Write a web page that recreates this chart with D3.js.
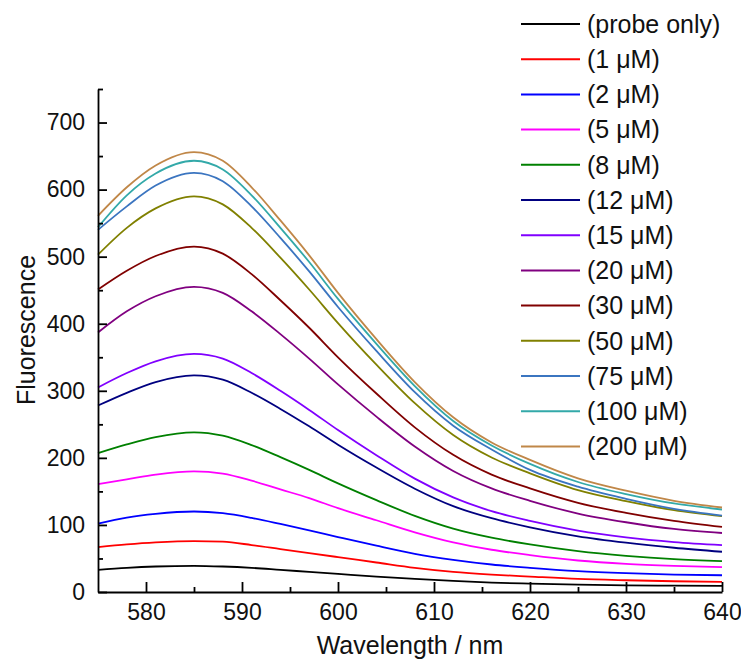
<!DOCTYPE html>
<html>
<head>
<meta charset="utf-8">
<script src="https://cdn.jsdelivr.net/npm/d3@7"></script>
<style>
body { margin: 0; background: #fff; }
text { font-family: "Liberation Sans", Arial, sans-serif; fill: #111; }
</style>
</head>
<body>
<svg id="chart" width="741" height="662"></svg>
<script>
// wavelengths (nm)
var wavelengths = [575, 578, 581, 585, 588, 591, 594, 597, 600, 604, 608, 612, 616, 620, 625, 630, 635, 640];

var labels = ["(probe only)", "(1 \u03bcM)", "(2 \u03bcM)", "(5 \u03bcM)", "(8 \u03bcM)", "(12 \u03bcM)", "(15 \u03bcM)",
              "(20 \u03bcM)", "(30 \u03bcM)", "(50 \u03bcM)", "(75 \u03bcM)", "(100 \u03bcM)", "(200 \u03bcM)"];

var probeOnly = [33, 36, 38, 39, 38, 36, 33, 30, 27, 23, 19.5, 16.5, 14, 12.5, 11, 10, 9.5, 9];
var conc1   = [67, 71, 74, 76, 75, 70, 64, 58, 52, 44, 36, 30, 26, 23, 19.5, 17.5, 16, 15];
var conc2   = [102, 111, 116.5, 120, 117.5, 110.5, 101.5, 92, 82, 69, 57, 48, 41, 36, 31, 28, 26, 25];
var conc5   = [161, 168, 175, 180, 176.5, 166, 153, 140, 125, 107, 89, 74, 63, 55, 47, 42, 39, 37];
var conc8   = [207, 220, 231, 238, 233, 219, 201, 182, 162, 137, 113.5, 94.5, 81, 71, 61, 54, 49, 46];
var conc12  = [278, 297, 313, 323, 316.5, 297, 273, 247, 219.5, 185.5, 154, 128, 110, 96.5, 83, 73.5, 66, 60];
var conc15  = [305, 326.5, 344, 355, 348, 326.5, 300, 271.5, 241.5, 204, 169, 141, 120.5, 106, 91.5, 81.5, 74.5, 70];
var conc20  = [387, 418.5, 441, 455, 446, 418.5, 384.5, 348, 309.5, 261.5, 217, 180.5, 154.5, 136, 117, 104, 94, 88];
var conc30  = [451, 479, 501, 515, 504.5, 474, 435, 394, 350, 296, 245.5, 204.5, 175, 154.5, 133, 118, 106, 97];
var conc50  = [503, 543, 572, 590, 578, 543, 498.5, 451, 401, 339, 281.5, 234, 200.5, 177, 152, 135.5, 122, 113];
var conc75  = [540, 575, 606, 625, 612.5, 575, 528, 478, 425, 359.5, 298, 248, 212.5, 182, 157, 139, 124, 114];
var conc100 = [544, 591.5, 624, 643, 630, 591.5, 543, 492, 437, 370, 307, 255, 218.5, 191, 164, 146, 132, 123];
var conc200 = [561, 603.5, 636, 656, 643, 603.5, 554, 502, 446, 377, 313, 260.5, 223, 197, 169.5, 151, 136, 126];

var seriesValues = [probeOnly, conc1, conc2, conc5, conc8, conc12, conc15, conc20, conc30, conc50, conc75, conc100, conc200];

var colors = ["#000000", "#ff0000", "#0000ff", "#ff00ff", "#008000", "#000080", "#8000ff",
              "#800080", "#800000", "#808000", "#3b75c0", "#33a9a9", "#c08748"];

var yMajor = [0, 100, 200, 300, 400, 500, 600, 700];
var yMinor = [50, 150, 250, 350, 450, 550, 650, 750];
var xMajor = [580, 590, 600, 610, 620, 630, 640];
var xMinor = [585, 595, 605, 615, 625, 635];

var svg = d3.select("#chart"),
    margin = {top: 89, right: 19, bottom: 70, left: 98},
    width = +svg.attr("width") - margin.left - margin.right,
    height = +svg.attr("height") - margin.top - margin.bottom,
    g = svg.append("g").attr("transform", "translate(" + margin.left + "," + margin.top + ")");

var x = d3.scaleLinear().domain([575, 640]).range([0, width]);
var y = d3.scaleLinear().domain([0, 750]).range([height, 0]);

var series = seriesValues.map(function(vals, i) {
    return {
        label: labels[i],
        color: colors[i],
        values: vals.map(function(v, j) { return {w: wavelengths[j], v: v}; })
    };
});

var line = d3.line()
    .x(function(d) { return x(d.w); })
    .y(function(d) { return y(d.v); })
    .curve(d3.curveMonotoneX);

g.append("g")
  .selectAll("path")
  .data(series)
  .enter().append("path")
    .attr("fill", "none")
    .attr("stroke", function(d) { return d.color; })
    .attr("stroke-width", 1.8)
    .attr("d", function(d) { return line(d.values); });

// axes, ticks point inward
g.append("g")
    .call(d3.axisLeft(y).tickValues(yMajor).tickSize(-9).tickSizeOuter(0).tickPadding(13));
g.append("g")
    .call(d3.axisLeft(y).tickValues(yMinor).tickSize(-5).tickFormat(""))
    .select(".domain").remove();

g.append("g")
    .attr("transform", "translate(0," + height + ")")
    .call(d3.axisBottom(x).tickValues(xMajor).tickSize(-10).tickSizeOuter(0).tickPadding(12));
g.append("g")
    .attr("transform", "translate(0," + height + ")")
    .call(d3.axisBottom(x).tickValues(xMinor).tickSize(-5).tickFormat(""))
    .select(".domain").remove();

g.selectAll(".domain, .tick line").attr("stroke", "#000").attr("stroke-width", 1.8);
g.selectAll(".tick text")
    .attr("font-size", 23)
    .attr("font-family", "'Liberation Sans', Arial, sans-serif")
    .attr("fill", "#111");

svg.append("text")
    .attr("transform", "translate(35,330) rotate(-90)")
    .attr("text-anchor", "middle")
    .attr("font-size", 25)
    .text("Fluorescence");

svg.append("text")
    .attr("x", margin.left + width / 2)
    .attr("y", 654)
    .attr("text-anchor", "middle")
    .attr("font-size", 25)
    .text("Wavelength / nm");

// legend
var legend = svg.append("g")
  .selectAll("g")
  .data(series)
  .enter().append("g")
    .attr("transform", function(d, i) { return "translate(521," + (24 + i * 35.2) + ")"; });

legend.append("line")
    .attr("x1", 0).attr("x2", 59)
    .attr("stroke", function(d) { return d.color; })
    .attr("stroke-width", 2);

legend.append("text")
    .attr("x", 66)
    .attr("dy", "0.35em")
    .attr("font-size", 25)
    .text(function(d) { return d.label; });
</script>
</body>
</html>
